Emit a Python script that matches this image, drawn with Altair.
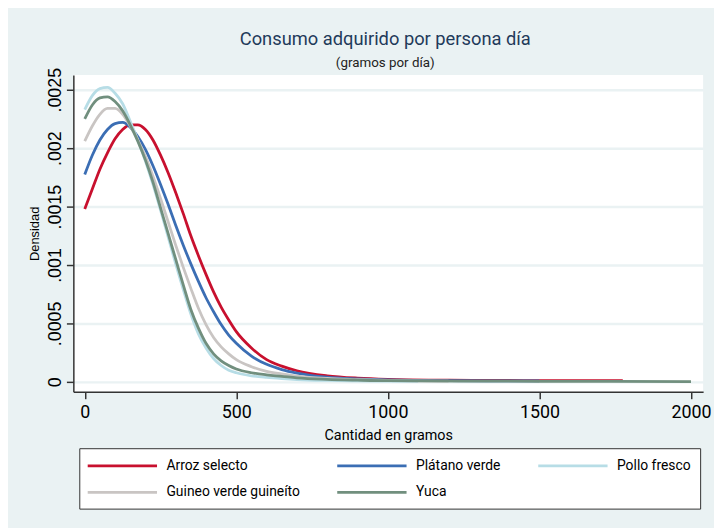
import altair as alt
import pandas as pd

# ---- data (kernel density curves) ----
series_names = ["Arroz selecto", "Plátano verde", "Pollo fresco",
                "Guineo verde guineíto", "Yuca"]
series_colors = ["#c8102e", "#3b6eb4", "#b7dde6", "#c9c5c3", "#718f7e"]

arroz_x = [0, 25, 50, 75, 100, 125, 150, 175, 200, 225, 250, 275, 300, 325, 350,
           375, 400, 425, 450, 475, 500, 550, 600, 650, 700, 800, 900, 1000,
           1200, 1400, 1600, 1775]
arroz_y = [0.00148, 0.00165, 0.00182, 0.00196, 0.00208, 0.00216, 0.00220, 0.00220,
           0.00216, 0.00207, 0.00194, 0.00179, 0.00162, 0.00144, 0.00125, 0.00108,
           0.00092, 0.00077, 0.00064, 0.00053, 0.00043, 0.00029, 0.00019, 0.000135,
           0.000095, 0.000052, 0.000032, 0.000022, 0.000015, 0.000012, 0.00001, 0.00001]

platano_x = [0, 25, 50, 75, 100, 125, 150, 175, 200, 225, 250, 275, 300, 325, 350,
             375, 400, 425, 450, 475, 500, 550, 600, 650, 700, 800, 900, 1000,
             1200, 1500]
platano_y = [0.001775, 0.00194, 0.00207, 0.00216, 0.00221, 0.00222, 0.00218, 0.00210,
             0.00199, 0.00185, 0.00169, 0.00152, 0.00134, 0.00117, 0.00101, 0.00086,
             0.00072, 0.00060, 0.00049, 0.00040, 0.00033, 0.00022, 0.00015, 0.000105,
             0.000075, 0.00004, 0.000025, 0.000016, 0.00001, 0.000008]

pollo_x = [0, 25, 50, 75, 100, 125, 150, 175, 200, 225, 250, 275, 300, 325, 350,
           375, 400, 425, 450, 475, 500, 550, 600, 650, 700, 800, 1000, 1100]
pollo_y = [0.00233, 0.00245, 0.00251, 0.00252, 0.00247, 0.00238, 0.00223, 0.00207,
           0.00189, 0.00169, 0.00147, 0.00124, 0.00101, 0.00079, 0.00058, 0.00041,
           0.00029, 0.00020, 0.00014, 0.00010, 0.000078, 0.000052, 0.000038, 0.000028,
           0.00002, 0.000012, 0.000006, 0.000005]

guineo_x = [0, 25, 50, 75, 100, 125, 150, 175, 200, 225, 250, 275, 300, 325, 350,
            375, 400, 425, 450, 475, 500, 550, 600, 650, 700, 800, 900, 1000, 1200]
guineo_y = [0.00206, 0.00219, 0.00229, 0.00234, 0.00234, 0.00229, 0.00219, 0.00207,
            0.00193, 0.00176, 0.00157, 0.00137, 0.00117, 0.00098, 0.00080, 0.00063,
            0.00049, 0.00038, 0.00030, 0.00024, 0.00019, 0.00013, 0.00009, 0.000068,
            0.00005, 0.00003, 0.00002, 0.000012, 0.000006]

yuca_x = [0, 25, 50, 75, 100, 125, 150, 175, 200, 225, 250, 275, 300, 325, 350,
          375, 400, 425, 450, 475, 500, 550, 600, 650, 700, 800, 900, 1000,
          1500, 2000]
yuca_y = [0.00225, 0.00237, 0.00243, 0.00244, 0.00240, 0.00232, 0.00220, 0.00206,
          0.00190, 0.00171, 0.00149, 0.00127, 0.00105, 0.00083, 0.00062, 0.00046,
          0.00033, 0.00024, 0.00018, 0.00014, 0.00011, 0.000078, 0.00006, 0.000048,
          0.000035, 0.000022, 0.000015, 0.00001, 0.000005, 0.000003]

x_ticks = [0, 500, 1000, 1500, 2000]
y_ticks = [0, 0.0005, 0.001, 0.0015, 0.002, 0.0025]

all_series = [(arroz_x, arroz_y), (platano_x, platano_y), (pollo_x, pollo_y),
              (guineo_x, guineo_y), (yuca_x, yuca_y)]

rows = []
for order, (name, (xs, ys)) in enumerate(zip(series_names, all_series)):
    for xv, yv in zip(xs, ys):
        rows.append({"serie": name, "orden": order, "x": xv, "y": yv})
df = pd.DataFrame(rows)

BG = "#eaf2f3"

lines = alt.Chart(df).mark_line(strokeWidth=2.8, interpolate="monotone").encode(
    x=alt.X("x:Q",
            scale=alt.Scale(domain=[-37.6, 2040], nice=False, zero=False),
            axis=alt.Axis(values=x_ticks, format="d", grid=False,
                          title="Cantidad en gramos",
                          labelFont="Roboto", labelFontSize=18, labelColor="#000",
                          labelPadding=5, tickSize=7, tickWidth=1.5, tickColor="#333",
                          domainColor="#333", domainWidth=1.5,
                          titleFont="Roboto", titleFontSize=14.5,
                          titleFontWeight="normal", titleColor="#000",
                          titleBaseline="alphabetic", titleY=48)),
    y=alt.Y("y:Q",
            scale=alt.Scale(domain=[-0.0000847, 0.002627], nice=False, zero=False),
            axis=alt.Axis(values=y_ticks,
                          labelExpr="datum.value == 0 ? '0' : replace(format(datum.value, '.4~f'), '0.', '.')",
                          labelAngle=270, labelAlign="center", labelBaseline="alphabetic",
                          labelFont="Liberation Sans", labelFontSize=18, labelColor="#000",
                          labelPadding=6, tickSize=7, tickWidth=1.5, tickColor="#333",
                          domainColor="#333", domainWidth=1.5,
                          grid=True, gridColor=BG, gridWidth=2.5,
                          title="Densidad", titleFont="Liberation Sans", titleFontSize=13,
                          titleFontWeight="normal", titleColor="#000",
                          titleAngle=270, titleAlign="center", titleBaseline="middle",
                          titleX=-39, titleY=160)),
    color=alt.Color("serie:N",
                    scale=alt.Scale(domain=series_names, range=series_colors),
                    legend=alt.Legend(title=None, orient="none", legendX=6, legendY=377,
                                      direction="horizontal", columns=3,
                                      symbolType="M-5,0H5", symbolSize=196,
                                      symbolStrokeWidth=2.8, symbolOffset=26,
                                      labelOffset=36, columnPadding=31, rowPadding=11,
                                      padding=9, strokeColor="#333", fillColor="white",
                                      labelFont="Roboto", labelFontSize=14,
                                      labelColor="#000", gridAlign="each")),
    order=alt.Order("orden:Q"),
).properties(
    width=636,
    height=320,
    title=alt.TitleParams(text="Consumo adquirido por persona día",
                          subtitle="(gramos por día)",
                          font="Roboto", fontSize=18.5, fontWeight="normal",
                          color="#1f3a5a", subtitleFont="Roboto", subtitleFontSize=13.5,
                          subtitleColor="#222", anchor="middle", frame="group",
                          dx=-3, dy=2.5, offset=0, subtitlePadding=8),
    autosize=alt.AutoSizeParams(type="none"),
    padding={"left": 66, "top": 65, "right": 11, "bottom": 135},
    background=BG,
).configure_view(stroke=None, fill="white")

chart = lines
chart.save("out.html", embed_options={"renderer": "svg", "actions": False})
